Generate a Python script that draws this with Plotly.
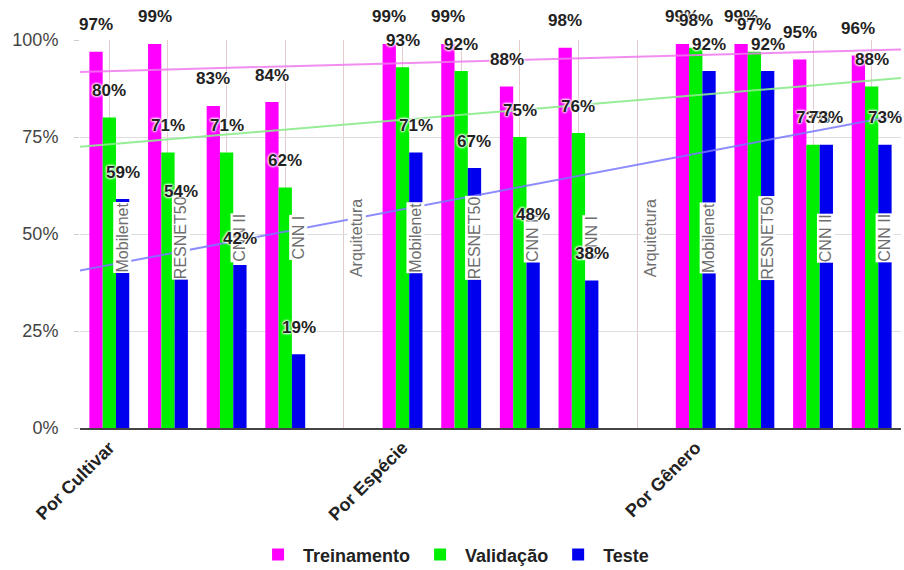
import numpy as np
import plotly.graph_objects as go

# ---- data ----
group_labels = ["Por Cultivar", "Por Espécie", "Por Gênero"]
group_tick_slots = [0, 5, 10]
slot_labels = ["Mobilenet", "RESNET50", "CNN II", "CNN I", "Arquitetura",
               "Mobilenet", "RESNET50", "CNN II", "CNN I", "Arquitetura",
               "Mobilenet", "RESNET50", "CNN II", "CNN II"]
series_names = ["Treinamento", "Validação", "Teste"]
treinamento = [97, 99, 83, 84, None, 99, 99, 88, 98, None, 99, 99, 95, 96]
validacao = [80, 71, 71, 62, None, 93, 92, 75, 76, None, 98, 97, 73, 88]
teste = [59, 54, 42, 19, None, 71, 67, 48, 38, None, 92, 92, 73, 73]
y_ticks = [0, 25, 50, 75, 100]

# ---- styles ----
bar_colors = ["#ff00ff", "#00ee00", "#0000ee"]
trend_colors = ["rgba(238,120,238,0.85)", "rgba(140,235,140,0.9)", "rgba(120,120,255,0.85)"]
BARGAP = 0.32
bw = (1 - BARGAP) / 3
offsets = [-bw, 0, bw]

x = list(range(len(slot_labels)))
series = [treinamento, validacao, teste]

fig = go.Figure()
for name, vals, col in zip(series_names, series, bar_colors):
    fig.add_trace(go.Bar(x=x, y=vals, name=name, marker=dict(color=col, line=dict(width=0)),
                         hoverinfo="skip"))

# linear trend lines (regression on row index)
xr = np.array([-0.5, len(x) - 0.5])
for vals, col in zip(series, trend_colors):
    xs = np.array([i for i, v in zip(x, vals) if v is not None], dtype=float)
    ys = np.array([v for v in vals if v is not None], dtype=float)
    m, b = np.polyfit(xs, ys, 1)
    fig.add_trace(go.Scatter(x=xr, y=m * xr + b, mode="lines", line=dict(color=col, width=2),
                             showlegend=False, hoverinfo="skip"))

annotations = []
halo = "0 0 2px white, 0 0 2px white, 0 0 3px white, 0 0 3px white"
# model / separator labels over the blue bars
for i, lab in enumerate(slot_labels):
    annotations.append(dict(x=i + offsets[2], y=49, text=lab, showarrow=False, textangle=-90,
                            xanchor="center", yanchor="middle", bgcolor="white", borderpad=0,
                            font=dict(family="Liberation Sans, Arial", size=16, color="#6e6e6e")))
# value labels
for vals, off in zip(series, offsets):
    for i, v in zip(x, vals):
        if v is None:
            continue
        annotations.append(dict(x=i + off, y=v, text=f"{v}%", showarrow=False,
                                xanchor="center", yanchor="middle", yshift=27,
                                font=dict(family="Liberation Sans, Arial", size=17, color="#222",
                                          weight="bold", shadow=halo)))

fig.update_layout(
    width=904, height=570,
    margin=dict(l=80, r=3, t=40, b=142, autoexpand=False),
    plot_bgcolor="white", paper_bgcolor="white",
    barmode="group", bargap=BARGAP, bargroupgap=0,
    annotations=annotations,
    legend=dict(orientation="h", x=0.455, xanchor="center", y=-0.327, yanchor="middle",
                font=dict(family="Liberation Sans, Arial", size=18, color="#222", weight="bold"),
                itemwidth=40, traceorder="normal"),
    xaxis=dict(range=[-0.5, len(x) - 0.5], tickmode="array", tickvals=group_tick_slots,
               ticktext=group_labels, tickangle=-45, automargin=False,
               tickfont=dict(family="Liberation Sans, Arial", size=18, color="#222", weight="bold"),
               showgrid=True, gridcolor="#e3cccc", gridwidth=1,
               minor=dict(showgrid=True, dtick=1, tick0=0, gridcolor="#e3cccc", gridwidth=1),
               showline=True, linecolor="#444", linewidth=2, zeroline=False, ticks=""),
    yaxis=dict(range=[0, 100], tickmode="array", tickvals=y_ticks, automargin=False,
               ticktext=[f"{t}%" for t in y_ticks],
               tickfont=dict(family="Liberation Sans, Arial", size=18, color="#444"),
               showgrid=True, gridcolor="#dddddd", zeroline=False,
               ticks="outside", ticklen=5, tickcolor="#cccccc", ticklabelstandoff=12),
)

fig.write_html("out.html", config={"displayModeBar": False},
               post_script="document.body.style.margin='0';")
